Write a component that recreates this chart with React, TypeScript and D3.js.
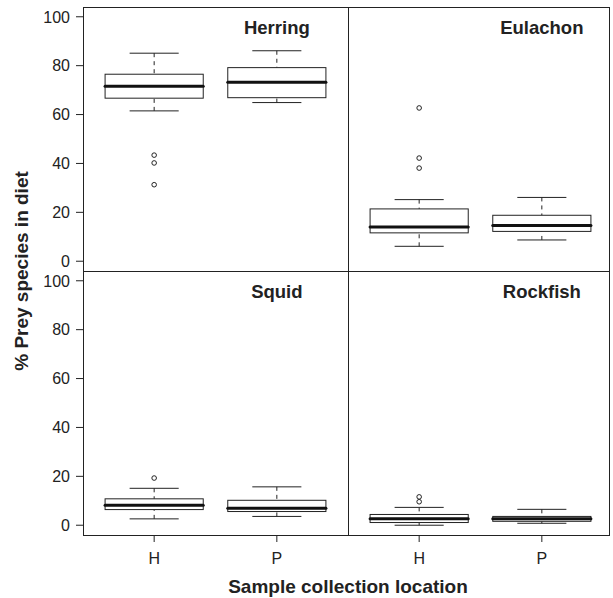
import React, { useEffect, useRef } from 'react'
import * as d3 from 'd3'

const locations = ['H', 'P']
const panelTitles = ['Herring', 'Eulachon', 'Squid', 'Rockfish']
const yTicks = [0, 20, 40, 60, 80, 100]

// [lower whisker, Q1, median, Q3, upper whisker] for H and P
const herringStats = [[61.5, 66.7, 71.6, 76.5, 85.1], [64.9, 66.9, 73.2, 79.2, 86.1]]
const herringOutliers = [[43.4, 40.2, 31.3], []]
const eulachonStats = [[6.1, 11.6, 14.0, 21.4, 25.2], [8.7, 12.2, 14.6, 18.8, 26.1]]
const eulachonOutliers = [[62.7, 42.2, 38.1], []]
const squidStats = [[2.6, 6.4, 8.2, 10.8, 15.1], [3.6, 5.6, 6.9, 10.2, 15.7]]
const squidOutliers = [[19.3], []]
const rockfishStats = [[0, 1.1, 2.6, 4.4, 7.3], [0.8, 1.6, 2.6, 3.6, 6.5]]
const rockfishOutliers = [[11.6, 9.6], []]

const panelStats = [herringStats, eulachonStats, squidStats, rockfishStats]
const panelOutliers = [herringOutliers, eulachonOutliers, squidOutliers, rockfishOutliers]

const W = 613
const H = 598
const left = 83
const top = 7
const panelW = 265
const panelH = 264
const rightEdge = 609
const ink = '#222'
const font = '"Liberation Sans", Arial, Helvetica, sans-serif'

export default function App() {
  const ref = useRef<SVGSVGElement>(null)

  useEffect(() => {
    const svg = d3.select(ref.current)
    svg.selectAll('*').remove()

    const x = d3.scaleLinear().domain([0.42, 2.58]).range([0, panelW])
    const bottom = top + 2 * panelH

    panelTitles.forEach((title, p) => {
      const col = p % 2
      const row = Math.floor(p / 2)
      const px = left + col * panelW
      const py = top + row * panelH
      const y = d3.scaleLinear().domain([-4, 104]).range([py + panelH, py])
      const g = svg.append('g').attr('transform', `translate(${px},0)`)

      panelStats[p].forEach((s, i) => {
        const cx = x(i + 1)
        const bx0 = x(i + 1 - 0.4)
        const bx1 = x(i + 1 + 0.4)
        const cx0 = x(i + 1 - 0.2)
        const cx1 = x(i + 1 + 0.2)
        const b = g.append('g')
        // whiskers
        b.append('line').attr('x1', cx).attr('x2', cx).attr('y1', y(s[0])).attr('y2', y(s[1]))
          .attr('stroke', ink).attr('stroke-dasharray', '4,4')
        b.append('line').attr('x1', cx).attr('x2', cx).attr('y1', y(s[4])).attr('y2', y(s[3]))
          .attr('stroke', ink).attr('stroke-dasharray', '4,4')
        // caps
        ;[s[0], s[4]].forEach(v => {
          b.append('line').attr('x1', cx0).attr('x2', cx1).attr('y1', y(v)).attr('y2', y(v))
            .attr('stroke', ink)
        })
        // box
        b.append('rect').attr('x', bx0).attr('width', bx1 - bx0)
          .attr('y', y(s[3])).attr('height', y(s[1]) - y(s[3]))
          .attr('fill', 'white').attr('stroke', ink)
        // median
        b.append('line').attr('x1', bx0).attr('x2', bx1).attr('y1', y(s[2])).attr('y2', y(s[2]))
          .attr('stroke', '#111').attr('stroke-width', 3).attr('stroke-linecap', 'round')
        // outliers
        panelOutliers[p][i].forEach(v => {
          b.append('circle').attr('cx', cx).attr('cy', y(v)).attr('r', 2.3)
            .attr('fill', 'none').attr('stroke', ink)
        })
      })

      g.append('text').attr('x', x(2)).attr('y', py + 27)
        .attr('text-anchor', 'middle').attr('font-weight', 'bold')
        .attr('font-size', 18.5).attr('fill', ink).attr('font-family', font)
        .text(title)

      // y axis on the left column
      if (col === 0) {
        yTicks.forEach(t => {
          svg.append('line').attr('x1', left - 7).attr('x2', left).attr('y1', y(t)).attr('y2', y(t))
            .attr('stroke', ink)
          svg.append('text').attr('x', left - 13).attr('y', y(t)).attr('dy', '0.36em')
            .attr('text-anchor', 'end').attr('font-size', 16).attr('fill', ink)
            .attr('font-family', font).text(t)
        })
      }
      // x axis on the bottom row
      if (row === 1) {
        locations.forEach((loc, i) => {
          g.append('line').attr('x1', x(i + 1)).attr('x2', x(i + 1)).attr('y1', bottom).attr('y2', bottom + 7)
            .attr('stroke', ink)
          g.append('text').attr('x', x(i + 1)).attr('y', bottom + 29)
            .attr('text-anchor', 'middle').attr('font-size', 16).attr('fill', ink)
            .attr('font-family', font).text(loc)
        })
      }
    })

    // frames
    svg.append('rect').attr('x', left + 0.5).attr('y', top + 0.5)
      .attr('width', rightEdge - left).attr('height', bottom - top)
      .attr('fill', 'none').attr('stroke', ink)
    svg.append('line').attr('x1', left + panelW + 0.5).attr('x2', left + panelW + 0.5)
      .attr('y1', top).attr('y2', bottom).attr('stroke', ink)
    svg.append('line').attr('x1', left).attr('x2', rightEdge)
      .attr('y1', top + panelH + 0.5).attr('y2', top + panelH + 0.5).attr('stroke', ink)

    // axis titles
    svg.append('text').attr('x', 348).attr('y', 593)
      .attr('text-anchor', 'middle').attr('font-weight', 'bold').attr('font-size', 19)
      .attr('fill', ink).attr('font-family', font)
      .text('Sample collection location')
    svg.append('text').attr('transform', `translate(28,${top + panelH}) rotate(-90)`)
      .attr('text-anchor', 'middle').attr('font-weight', 'bold').attr('font-size', 19)
      .attr('fill', ink).attr('font-family', font)
      .text('% Prey species in diet')
  }, [])

  return (
    <div style={{ position: 'absolute', left: 0, top: 0 }}>
      <svg ref={ref} width={W} height={H} style={{ display: 'block', background: 'white' }} />
    </div>
  )
}
